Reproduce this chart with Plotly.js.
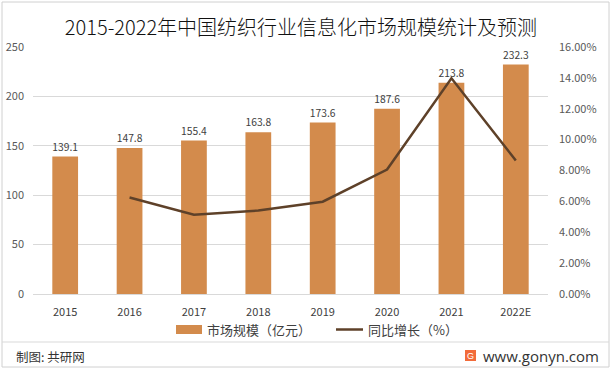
<!DOCTYPE html>
<html><head><meta charset="utf-8">
<script src="https://cdn.plot.ly/plotly-3.0.1.min.js"></script>
<style>html,body{margin:0;padding:0;background:#fff;}#c{width:612px;height:370px;}</style>
</head><body><div id="c"></div>
<script>
var years = ['2015','2016','2017','2018','2019','2020','2021','2022E'];
var marketSize = [139.1, 147.8, 155.4, 163.8, 173.6, 187.6, 213.8, 232.3];
var growthYears = ['2016','2017','2018','2019','2020','2021','2022E'];
var growthPct = [6.25, 5.14, 5.41, 5.98, 8.06, 13.97, 8.65];
var leftTicks = [0, 50, 100, 150, 200, 250];
var rightTicks = [0, 2, 4, 6, 8, 10, 12, 14, 16];
var seriesNames = ['市场规模（亿元）', '同比增长（%）'];

var F = '"Noto Sans CJK SC", "Microsoft YaHei", sans-serif';
var W = 612, H = 370, L = 33, R = 548, T = 47, B = 294;
function px(x){ return (x - L) / (R - L); }
function py(y){ return (B - y) / (B - T); }
var barColor = '#D38B4C', lineColor = '#5E4129';

var traces = [
  {type:'bar', x: years, y: marketSize, name: seriesNames[0],
   marker:{color:barColor}, text: marketSize.map(function(v){return v.toFixed(1);}),
   textposition:'outside', cliponaxis:false,
   textfont:{family:F, size:11, color:'#404040'}},
  {type:'scatter', mode:'lines', x: growthYears, y: growthPct, yaxis:'y2', name: seriesNames[1],
   line:{color:lineColor, width:2.5}}
];

var layout = {
  width: W, height: H,
  margin:{l:L, r:W-R, t:T, b:H-B, pad:0},
  paper_bgcolor:'#fff', plot_bgcolor:'#fff',
  font:{family:F, size:11, color:'#404040'},
  showlegend:false,
  bargap:0.6,
  title:{text:'2015-2022年中国纺织行业信息化市场规模统计及预测', x:px(301), xanchor:'center',
         y:1-28/H, yanchor:'middle', xref:'paper', font:{family:F, size:20, color:'#111', weight:300}},
  xaxis:{type:'category', categoryorder:'array', categoryarray: years, showgrid:false,
         showline:true, linecolor:'#d9d9d9', ticks:'', tickfont:{family:F, size:11, color:'#404040'},
         zeroline:false, ticklabelstandoff:8},
  yaxis:{range:[0,250], tickvals:leftTicks, showgrid:true, gridcolor:'#d9d9d9', gridwidth:1,
         zeroline:false, showline:false, ticks:'', tickfont:{family:F, size:11, color:'#595959'}, ticklabelstandoff:8},
  yaxis2:{overlaying:'y', side:'right', range:[0,16], tickvals:rightTicks,
          ticktext: rightTicks.map(function(v){return v.toFixed(2)+'%';}),
          showgrid:false, zeroline:false, showline:false, ticks:'',
          tickfont:{family:F, size:11, color:'#595959'}, ticklabelstandoff:10},
  shapes:[
    {type:'rect', xref:'paper', yref:'paper', x0:px(2), x1:px(609), y0:py(2), y1:py(367),
     line:{color:'#d0d0d0', width:1}, fillcolor:'rgba(0,0,0,0)', layer:'below'},
    {type:'line', xref:'paper', yref:'paper', x0:px(2), x1:px(609), y0:py(342), y1:py(342),
     line:{color:'#d9d9d9', width:1}},
    {type:'rect', xref:'paper', yref:'paper', x0:px(465), x1:px(476), y0:py(350), y1:py(361),
     line:{width:0}, fillcolor:'#F26B3A'},
    {type:'rect', xref:'paper', yref:'paper', x0:px(176), x1:px(202), y0:py(325), y1:py(334),
     line:{width:0}, fillcolor:barColor},
    {type:'line', xref:'paper', yref:'paper', x0:px(336), x1:px(363), y0:py(329.5), y1:py(329.5),
     line:{color:lineColor, width:2.5}}
  ],
  annotations:[
    {text:seriesNames[0], xref:'paper', yref:'paper', x:px(205), y:py(329.5), xanchor:'left', yanchor:'middle',
     showarrow:false, font:{family:F, size:13, color:'#404040'}},
    {text:seriesNames[1], xref:'paper', yref:'paper', x:px(366), y:py(329.5), xanchor:'left', yanchor:'middle',
     showarrow:false, font:{family:F, size:13, color:'#404040'}},
    {text:'制图: 共研网', xref:'paper', yref:'paper', x:px(14), y:py(356), xanchor:'left', yanchor:'middle',
     showarrow:false, font:{family:F, size:12.5, color:'#333'}},
    {text:'www.gonyn.com', xref:'paper', yref:'paper', x:px(601), y:py(356), xanchor:'right', yanchor:'middle',
     showarrow:false, font:{family:'"Open Sans", sans-serif', size:15, color:'#333'}},
    {text:'G', xref:'paper', yref:'paper', x:px(470.5), y:py(355.5), xanchor:'center', yanchor:'middle',
     showarrow:false, font:{family:'Arial, sans-serif', size:9, color:'#fff'}}
  ]
};
Plotly.newPlot('c', traces, layout, {displayModeBar:false, staticPlot:true});
</script></body></html>
